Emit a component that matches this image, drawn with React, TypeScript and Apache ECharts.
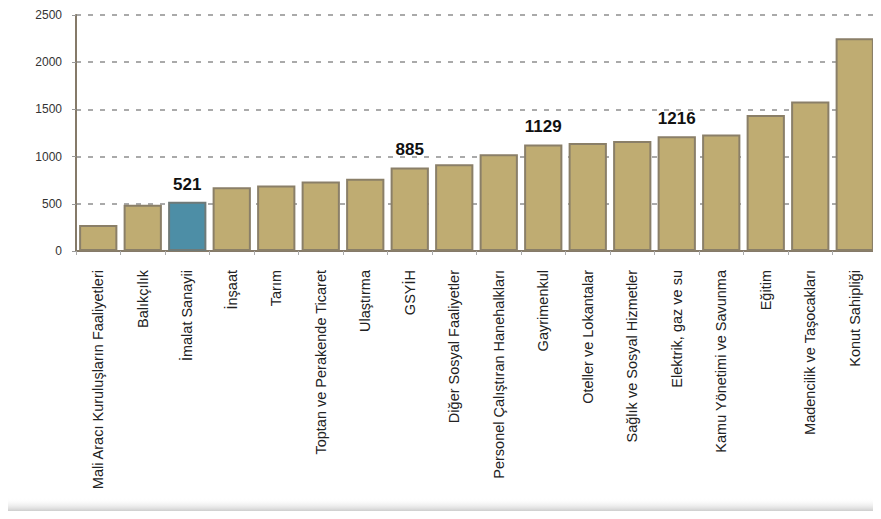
import React, { useEffect, useRef } from "react";
import * as echarts from "echarts";

const categories = [
  "Mali Aracı Kuruluşların Faaliyetleri",
  "Balıkçılık",
  "İmalat Sanayii",
  "İnşaat",
  "Tarım",
  "Toptan ve Perakende Ticaret",
  "Ulaştırma",
  "GSYİH",
  "Diğer Sosyal Faaliyetler",
  "Personel Çalıştıran Hanehalkları",
  "Gayrimenkul",
  "Oteller ve Lokantalar",
  "Sağlık ve Sosyal Hizmetler",
  "Elektrik, gaz ve su",
  "Kamu Yönetimi ve Savunma",
  "Eğitim",
  "Madencilik ve Taşocakları",
  "Konut Sahipliği",
];

const values = [275, 490, 521, 675, 695, 735, 765, 885, 920, 1025, 1129, 1145, 1165, 1216, 1235, 1440, 1585, 2255];

const labeledCategories = ["İmalat Sanayii", "GSYİH", "Gayrimenkul", "Elektrik, gaz ve su"];
const highlightedCategory = "İmalat Sanayii";

const yTicks = { min: 0, max: 2500, interval: 500 };

export default function App() {
  const ref = useRef<HTMLDivElement>(null);
  useEffect(() => {
    if (!ref.current) return;
    const chart = echarts.init(ref.current, undefined, { renderer: "svg" });
    const data = values.map((v, i) => {
      const cat = categories[i];
      const item: any = { value: v };
      if (cat === highlightedCategory) {
        item.itemStyle = { color: "#4d8ea6", borderColor: "#6f7a78" };
      }
      if (labeledCategories.includes(cat)) {
        item.label = {
          show: true,
          position: "top",
          distance: 9,
          fontSize: 17,
          fontWeight: "bold",
          color: "#111",
          fontFamily: "Liberation Sans, Arial, sans-serif",
        };
      }
      return item;
    });
    chart.setOption({
      animation: false,
      backgroundColor: "#ffffff",
      grid: { left: 76, right: 4, top: 15, bottom: 268, containLabel: false },
      xAxis: {
        type: "category",
        data: categories,
        boundaryGap: true,
        axisLine: { lineStyle: { color: "#857a69", width: 2 } },
        axisTick: { show: true, length: 4, lineStyle: { color: "#aaa" } },
        axisLabel: {
          rotate: 90,
          interval: 0,
          margin: 19,
          fontSize: 14.5,
          color: "#222",
          fontFamily: "Liberation Sans, Arial, sans-serif",
        },
      },
      yAxis: {
        type: "value",
        min: yTicks.min,
        max: yTicks.max,
        interval: yTicks.interval,
        axisLine: { show: true, lineStyle: { color: "#857a69", width: 2 } },
        axisTick: { show: true, length: 4, lineStyle: { color: "#999" } },
        axisLabel: {
          margin: 14,
          fontSize: 12,
          color: "#333",
          fontFamily: "Liberation Sans, Arial, sans-serif",
          formatter: (v: number) => String(v),
        },
        splitLine: {
          show: true,
          lineStyle: { color: "#8f8f8f", type: [5, 7], width: 1.5 },
        },
      },
      series: [
        {
          type: "bar",
          data,
          barCategoryGap: "14%",
          itemStyle: { color: "#bfac72", borderColor: "#8a7f68", borderWidth: 2 },
          label: { show: false },
        },
      ],
      graphic: [
        {
          type: "rect",
          left: 0,
          top: 498,
          shape: { width: 881, height: 21 },
          style: {
            fill: new echarts.graphic.LinearGradient(0, 0, 0, 1, [
              { offset: 0, color: "rgba(255,255,255,0)" },
              { offset: 0.5, color: "rgba(215,215,215,0.8)" },
              { offset: 1, color: "rgba(140,140,140,1)" },
            ]),
          },
          silent: true,
        },
      ],
    });
    return () => chart.dispose();
  }, []);
  return <div ref={ref} style={{ width: 881, height: 519, margin: -8 }} />;
}
